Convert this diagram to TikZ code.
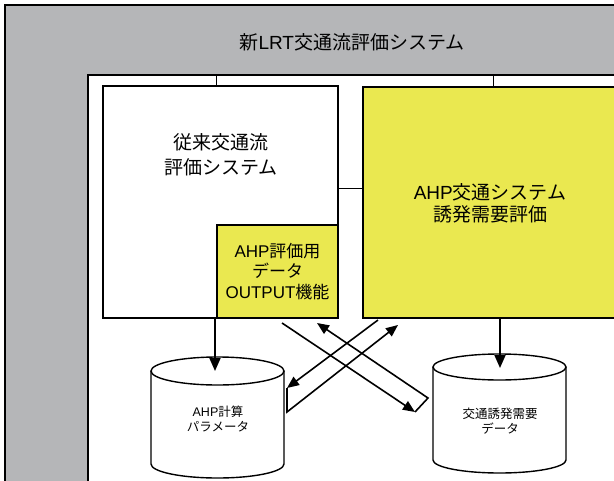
\documentclass[tikz,border=0pt]{standalone}
\usepackage{fontspec}
\setmainfont{Noto Sans CJK JP}
\newfontfamily\lat{Liberation Sans}
\usetikzlibrary{arrows.meta}
\definecolor{bggray}{RGB}{181,182,184}
\definecolor{ylw}{RGB}{234,232,80}
\begin{document}
\begin{tikzpicture}[x=1pt,y=-1pt,
  box/.style={draw=black,line width=2.5pt,inner sep=0pt,outer sep=0pt},
  thin/.style={draw=black,line width=1pt},
  arr/.style={draw=black,line width=1.6pt,-{Triangle[length=13pt,width=11pt]}},
  xarr/.style={draw=black,line width=1.6pt,-{Triangle[length=12pt,width=10pt]}},
  cyl/.style={draw=black,line width=1.4pt,fill=white},
  big/.style={align=center,font=\fontsize{19}{25}\selectfont},
  mid/.style={align=center,font=\fontsize{17}{20.5}\selectfont},
  small/.style={align=center,font=\fontsize{12.5}{15}\selectfont}]
\useasboundingbox (0,0) rectangle (614,480);
\clip (0,0) rectangle (614,480);
% outer gray frame
\draw[line width=2pt,fill=bggray] (5,5) rectangle (640,500);
\node[big] (title) at (352,42) {新{\lat LRT}交通流評価システム};
% inner white area
\draw[line width=2pt,fill=white] (88,75) rectangle (640,500);
% boxes
\node[box,fill=white,minimum width=235pt,minimum height=232pt,anchor=north west] (legacy) at (103,86) {};
\node[big] (legacyt) at (221,155) {従来交通流\\評価システム};
\node[box,fill=ylw,minimum width=121pt,minimum height=93pt,anchor=north west,mid] (out) at (217,225) {{\lat AHP}評価用\\データ\\{\lat OUTPUT}機能};
\node[box,fill=ylw,minimum width=256pt,minimum height=231pt,anchor=north west] (ahp) at (363,87) {};
\node[big,font=\fontsize{19}{22}\selectfont] (ahpt) at (490,203) {{\lat AHP}交通システム\\誘発需要評価};
% thin links
\coordinate (w1) at (216,75);
\coordinate (w2) at (493,75);
\coordinate (hl) at (350,188);
\draw[thin] (w1) -- (w1 |- legacy.north);
\draw[thin] (w2) -- (w2 |- ahp.north);
\draw[thin] (legacy.east |- hl) -- (ahp.west |- hl);
% cylinders
\draw[cyl] (151,371) -- (151,464) arc[start angle=180,end angle=360,x radius=66.5pt,y radius=14pt] -- (284,371);
\draw[cyl] (217.5,371) ellipse [x radius=66.5pt,y radius=14pt];
\node[small] (db1) at (218,419) {{\lat AHP}計算\\パラメータ};
\draw[cyl] (433,367) -- (433,460) arc[start angle=180,end angle=360,x radius=66.5pt,y radius=13pt] -- (566,367);
\draw[cyl] (499.5,367) ellipse [x radius=66.5pt,y radius=13pt];
\node[small] (db2) at (500,421) {交通誘発需要\\データ};
% vertical arrows
\coordinate (d1) at (215,371);
\coordinate (d2) at (500,368);
\draw[arr] (legacy.south -| d1) -- (d1);
\draw[arr] (ahp.south -| d2) -- (d2);
% crossing arrows
\coordinate (a1) at (282,323);
\coordinate (a2) at (415,412);
\coordinate (a3) at (428,398);
\coordinate (a4) at (317,323);
\coordinate (c1) at (378,320);
\coordinate (c2) at (287,388);
\coordinate (c3) at (287,412);
\coordinate (c4) at (398,325);
\draw[xarr] (a1) -- (a2);
\draw[xarr] (a2) -- (a3) -- (a4);
\draw[xarr] (c1) -- (c2);
\draw[xarr] (c2) -- (c3) -- (c4);
\end{tikzpicture}
\end{document}
